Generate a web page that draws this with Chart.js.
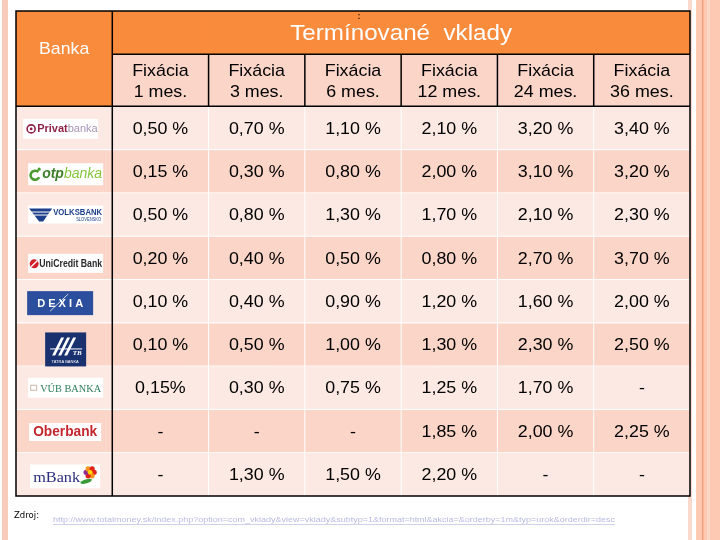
<!DOCTYPE html>
<html>
<head>
<meta charset="utf-8">
<title>Termínované vklady</title>
<script src="https://cdn.jsdelivr.net/npm/chart.js@4.4.1/dist/chart.umd.min.js"></script>
<style>
  html, body { margin: 0; padding: 0; background: #ffffff; }
  canvas { display: block; }
</style>
</head>
<body>
<canvas id="tableChart" width="720" height="540"></canvas>
<script>
// Termínované vklady - úroky podľa dĺžky fixácie
const banks = ["Privatbanka", "OTP Banka", "Volksbank Slovensko", "UniCredit Bank", "Dexia banka", "Tatra banka", "VÚB banka", "Oberbank", "mBank"];
const terms = ["1 mes.", "3 mes.", "6 mes.", "12 mes.", "24 mes.", "36 mes."];
const fix1m  = [0.50, 0.15, 0.50, 0.20, 0.10, 0.10, 0.15, null, null];
const fix3m  = [0.70, 0.30, 0.80, 0.40, 0.40, 0.50, 0.30, null, 1.30];
const fix6m  = [1.10, 0.80, 1.30, 0.50, 0.90, 1.00, 0.75, null, 1.50];
const fix12m = [2.10, 2.00, 1.70, 0.80, 1.20, 1.30, 1.25, 1.85, 2.20];
const fix24m = [3.20, 3.10, 2.10, 2.70, 1.60, 2.30, 1.70, 2.00, null];
const fix36m = [3.40, 3.20, 2.30, 3.70, 2.00, 2.50, null, 2.25, null];
const noSpace = [[6, 0]]; // VÚB 1 mes. je napisane "0,15%"
const title = "Termínované  vklady";
const firstHeader = "Banka";
const headerWord = "Fixácia";
const sourceLabel = "Zdroj:";
const sourceUrl = "http://www.totalmoney.sk/index.php?option=com_vklady&view=vklady&subtyp=1&format=html&akcia=&orderby=1m&typ=urok&orderdir=desc";

const rates = [fix1m, fix3m, fix6m, fix12m, fix24m, fix36m];
const categories = [firstHeader].concat(terms);

// riadky v jednotkach osi y: hlavicka 0-1, podhlavicka 1-2.2, potom banky
const HEAD1 = 1;
const HEAD2 = 2.2;

const ORANGE = "#f98b3d";
const PINK_DARK = "#fbd5c8";
const PINK_LIGHT = "#fde9e3";
const FONT = "'Liberation Sans', Arial, sans-serif";

function fmt(v, tight) {
    if (v === null) return "-";
    return v.toFixed(2).replace(".", ",") + (tight ? "%" : " %");
}

function label(ctx, text, x, y, font, color, stretch) {
    ctx.save();
    ctx.translate(x, y);
    ctx.scale(stretch || 1, 1);
    ctx.font = font;
    ctx.fillStyle = color;
    ctx.textAlign = "center";
    ctx.textBaseline = "middle";
    ctx.fillText(text, 0, 0);
    ctx.restore();
}

function fitText(ctx, text, x, y, width, font, color) {
    // natiahne text na zadanu sirku (zlava)
    ctx.save();
    ctx.font = font;
    const w = ctx.measureText(text).width;
    ctx.translate(x, y);
    ctx.scale(width / w, 1);
    ctx.fillStyle = color;
    ctx.textAlign = "left";
    ctx.textBaseline = "middle";
    ctx.fillText(text, 0, 0);
    ctx.restore();
}

function box(ctx, x, y, w, h, color) {
    ctx.fillStyle = color;
    ctx.fillRect(x, y, w, h);
}

function drawLogo(ctx, i, cx, cy) {
    ctx.save();
    ctx.textBaseline = "middle";
    ctx.textAlign = "left";
    let y;
    if (i === 0) { // Privatbanka
        y = cy + 1;
        box(ctx, cx - 41, y - 10, 75, 20, "#ffffff");
        ctx.strokeStyle = "#8e2346"; ctx.lineWidth = 1.6;
        ctx.beginPath(); ctx.arc(cx - 33, y, 4, 0, Math.PI * 2); ctx.stroke();
        ctx.fillStyle = "#8e2346";
        ctx.beginPath(); ctx.arc(cx - 33, y, 1.4, 0, Math.PI * 2); ctx.fill();
        ctx.font = "bold 11px " + FONT;
        ctx.fillText("Privat", cx - 27, y);
        const w = ctx.measureText("Privat").width;
        ctx.font = "11px " + FONT; ctx.fillStyle = "#a593b3";
        ctx.fillText("banka", cx - 27 + w, y);
    } else if (i === 1) { // OTP
        y = cy + 3;
        box(ctx, cx - 36, y - 11, 75, 22, "#ffffff");
        ctx.strokeStyle = "#4a9a2e"; ctx.lineWidth = 2.6;
        ctx.beginPath(); ctx.arc(cx - 29, y + 1, 4.5, Math.PI * 0.15, Math.PI * 1.75); ctx.stroke();
        ctx.fillStyle = "#4a9a2e";
        ctx.beginPath(); ctx.arc(cx - 25, y - 5, 1.6, 0, Math.PI * 2); ctx.fill();
        ctx.font = "italic bold 14px " + FONT; ctx.fillStyle = "#3f7f2a";
        ctx.fillText("otp", cx - 22, y);
        const w = ctx.measureText("otp").width;
        ctx.font = "italic 14px " + FONT; ctx.fillStyle = "#86c43c";
        ctx.fillText("banka", cx - 22 + w, y);
    } else if (i === 2) { // Volksbank
        y = cy;
        box(ctx, cx - 36, y - 9, 75, 18, "#ffffff");
        ctx.fillStyle = "#1d3e8a";
        ctx.beginPath();
        ctx.moveTo(cx - 35, y - 6); ctx.lineTo(cx - 12, y - 6); ctx.lineTo(cx - 21, y + 7); ctx.lineTo(cx - 25, y + 7);
        ctx.closePath(); ctx.fill();
        ctx.fillStyle = "#ffffff";
        ctx.fillRect(cx - 35, y - 3, 23, 1); ctx.fillRect(cx - 35, y, 23, 1);
        fitText(ctx, "VOLKSBANK", cx - 11, y - 2, 49, "bold 9px " + FONT, "#1d3e8a");
        fitText(ctx, "SLOVENSKO", cx + 12, y + 5, 25, "5px " + FONT, "#1d3e8a");
    } else if (i === 3) { // UniCredit
        y = cy + 6;
        box(ctx, cx - 36, y - 10, 75, 19, "#ffffff");
        ctx.fillStyle = "#d0202a";
        ctx.beginPath(); ctx.arc(cx - 30, y, 4.5, 0, Math.PI * 2); ctx.fill();
        ctx.strokeStyle = "#ffffff"; ctx.lineWidth = 1.3;
        ctx.beginPath(); ctx.moveTo(cx - 33, y + 3); ctx.lineTo(cx - 27, y - 3); ctx.stroke();
        fitText(ctx, "UniCredit Bank", cx - 25, y, 63, "bold 11px " + FONT, "#2b2b2b");
    } else if (i === 4) { // Dexia
        y = cy + 2;
        box(ctx, cx - 37, y - 12, 66, 24, "#2c4f9d");
        fitText(ctx, "D E X I A", cx - 27, y + 1, 46, "bold 11px " + FONT, "#ffffff");
        ctx.strokeStyle = "#ffffff"; ctx.lineWidth = 0.8;
        ctx.beginPath(); ctx.moveTo(cx - 14, y + 8); ctx.lineTo(cx + 4, y - 9); ctx.stroke();
    } else if (i === 5) { // Tatra banka
        y = cy + 5;
        box(ctx, cx - 19, y - 17, 41, 34, "#1a3170");
        ctx.fillStyle = "#ffffff";
        for (let s = 0; s < 3; s++) {
            const x0 = cx - 12 + s * 6;
            ctx.beginPath();
            ctx.moveTo(x0, y + 6); ctx.lineTo(x0 + 3, y + 6); ctx.lineTo(x0 + 12, y - 12); ctx.lineTo(x0 + 9, y - 12);
            ctx.closePath(); ctx.fill();
        }
        ctx.fillRect(cx - 14, y - 1, 32, 1);
        label(ctx, "TB", cx + 13, y + 4, "italic bold 7px 'Liberation Serif', serif", "#ffffff");
        label(ctx, "TATRA BANKA", cx + 1, y + 12, "4px " + FONT, "#ffffff");
    } else if (i === 6) { // VÚB
        y = cy;
        box(ctx, cx - 36, y - 10, 75, 20, "#ffffff");
        ctx.strokeStyle = "#c9b8a8"; ctx.lineWidth = 1;
        ctx.strokeRect(cx - 33.5, y - 2.5, 6, 5);
        fitText(ctx, "VÚB BANKA", cx - 24, y + 1, 61, "11px 'Liberation Serif', serif", "#2e7d5b");
    } else if (i === 7) { // Oberbank
        y = cy + 1;
        box(ctx, cx - 35, y - 9, 72, 18, "#ffffff");
        fitText(ctx, "Oberbank", cx - 31, y, 64, "bold 14px " + FONT, "#c4262e");
    } else { // mBank
        y = cy + 2;
        box(ctx, cx - 34, y - 12, 70, 24, "#ffffff");
        fitText(ctx, "mBank", cx - 31, y + 2, 47, "15px 'Liberation Serif', serif", "#2c2f7e");
        const fx = cx + 26, fy = y - 4;
        const petals = ["#e2231a", "#f7941d", "#e2231a", "#8e2a8e", "#f7941d", "#e2231a"];
        petals.forEach((c, p) => {
            const a = p * Math.PI / 3;
            ctx.fillStyle = c;
            ctx.beginPath(); ctx.arc(fx + Math.cos(a) * 4, fy + Math.sin(a) * 4, 2.6, 0, Math.PI * 2); ctx.fill();
        });
        ctx.fillStyle = "#ffd200";
        ctx.beginPath(); ctx.arc(fx, fy, 2.4, 0, Math.PI * 2); ctx.fill();
        ctx.fillStyle = "#3a9a3a";
        ctx.beginPath(); ctx.ellipse(fx - 4, fy + 9, 6, 2, -0.3, 0, Math.PI * 2); ctx.fill();
    }
    ctx.restore();
}

const tablePlugin = {
    id: "tablePlugin",
    beforeDraw(chart) {
        const ctx = chart.ctx;
        ctx.save();
        ctx.fillStyle = "#ffffff"; ctx.fillRect(0, 0, chart.width, chart.height);
        ctx.fillStyle = "#f9cbbb"; ctx.fillRect(2, 0, 6, chart.height);
        ctx.fillStyle = "#fbd9cd"; ctx.fillRect(688, 0, 4, chart.height);
        ctx.fillStyle = "#fdc9b2"; ctx.fillRect(696, 0, 24, chart.height);
        ctx.fillStyle = "#f2a47f"; ctx.fillRect(702, 0, 1.5, chart.height);
        ctx.fillStyle = "#fdd7c6"; ctx.fillRect(707, 0, 3, chart.height);
        ctx.restore();
    },
    afterDatasetsDraw(chart) {
        const ctx = chart.ctx;
        const xs = chart.scales.x, ys = chart.scales.y;
        const nCols = categories.length;
        const colX = k => xs.getPixelForValue(k - 0.5);
        const rowY = v => ys.getPixelForValue(v);
        const left = colX(0), right = colX(nCols);
        const top = rowY(0), bottom = rowY(HEAD2 + banks.length);
        const line = (x1, y1, x2, y2) => { ctx.beginPath(); ctx.moveTo(x1, y1); ctx.lineTo(x2, y2); ctx.stroke(); };

        ctx.save();
        // biele deliace ciary v tele tabulky
        ctx.strokeStyle = "#ffffff"; ctx.lineWidth = 1;
        for (let r = 1; r < banks.length; r++) line(left, rowY(HEAD2 + r), right, rowY(HEAD2 + r));
        for (let k = 2; k < nCols; k++) line(colX(k), rowY(HEAD2), colX(k), bottom);
        // cierne ciary
        ctx.strokeStyle = "#000000"; ctx.lineWidth = 1.5;
        line(colX(1), top, colX(1), bottom);
        line(colX(1), rowY(HEAD1), right, rowY(HEAD1));
        line(left, rowY(HEAD2), right, rowY(HEAD2));
        for (let k = 2; k < nCols; k++) line(colX(k), rowY(HEAD1), colX(k), rowY(HEAD2));
        ctx.strokeRect(left, top, right - left, bottom - top);

        // hlavicka
        label(ctx, title, (colX(1) + right) / 2, rowY(HEAD1 / 2) + 1.5, "22px " + FONT, "#ffffff", 1.1);
        label(ctx, ":", 359, 17, "bold 9px " + FONT, "#3a2410");
        label(ctx, firstHeader, xs.getPixelForValue(0), rowY(0.88), "17px " + FONT, "#ffffff", 1.04);
        const mid = rowY((HEAD1 + HEAD2) / 2) + 2;
        terms.forEach((t, c) => {
            const x = xs.getPixelForValue(c + 1);
            label(ctx, headerWord, x, mid - 10.5, "17px " + FONT, "#000000", 1.05);
            label(ctx, t, x, mid + 10.5, "17px " + FONT, "#000000", 1.05);
        });

        // hodnoty
        banks.forEach((b, r) => {
            const y = rowY(HEAD2 + r + 0.5);
            drawLogo(ctx, r, xs.getPixelForValue(0), y);
            rates.forEach((col, c) => {
                const tight = noSpace.some(p => p[0] === r && p[1] === c);
                label(ctx, fmt(col[r], tight), xs.getPixelForValue(c + 1), y + 1, "17px " + FONT, "#000000", 1.05);
            });
        });

        // zdroj
        fitText(ctx, sourceLabel, 14, 516, 25, "9px 'DejaVu Sans', sans-serif", "#000000");
        fitText(ctx, sourceUrl, 53, 520, 562, "8px " + FONT, "#b9b9e2");
        ctx.fillStyle = "#c6c6ea";
        ctx.fillRect(53, 524, 562, 0.8);
        ctx.restore();
    }
};

const datasets = [];
datasets.push({
    data: categories.map((_, c) => c === 0 ? [0, HEAD2] : [0, HEAD1]),
    backgroundColor: ORANGE
});
datasets.push({
    data: categories.map((_, c) => c === 0 ? null : [HEAD1, HEAD2]),
    backgroundColor: PINK_DARK
});
banks.forEach((b, i) => {
    datasets.push({
        label: b,
        data: categories.map(() => [HEAD2 + i, HEAD2 + i + 1]),
        backgroundColor: i % 2 === 0 ? PINK_LIGHT : PINK_DARK
    });
});

new Chart(document.getElementById("tableChart"), {
    type: "bar",
    data: { labels: categories, datasets: datasets },
    options: {
        responsive: false,
        animation: false,
        devicePixelRatio: 1,
        events: [],
        layout: { padding: { left: 16, top: 11, right: 30, bottom: 44 } },
        datasets: {
            bar: { grouped: false, categoryPercentage: 1, barPercentage: 1, borderWidth: 0, inflateAmount: 0.6 }
        },
        scales: {
            x: { type: "category", display: false, offset: true, grid: { display: false } },
            y: { type: "linear", display: false, reverse: true, min: 0, max: HEAD2 + banks.length, grid: { display: false } }
        },
        plugins: { legend: { display: false }, tooltip: { enabled: false } }
    },
    plugins: [tablePlugin]
});
</script>
</body>
</html>
